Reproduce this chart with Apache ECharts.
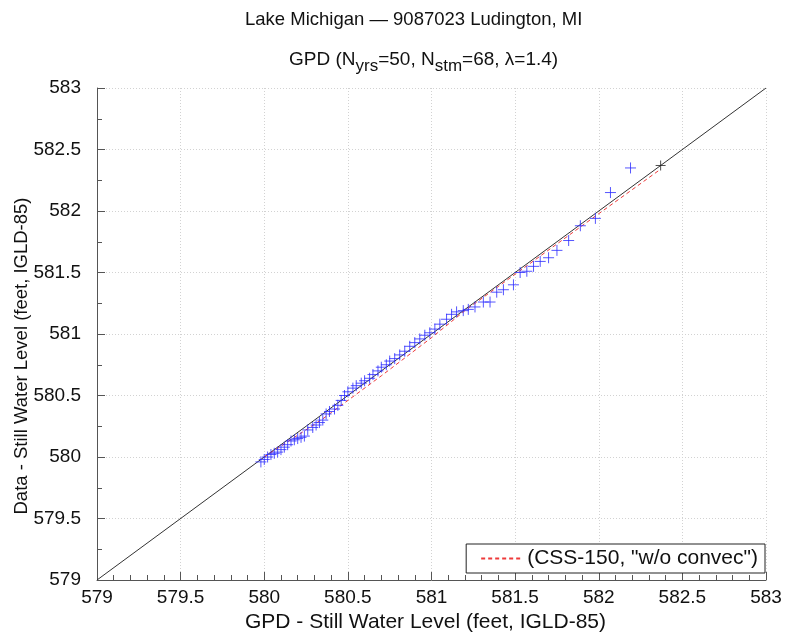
<!DOCTYPE html>
<html>
<head>
<meta charset="utf-8">
<script src="https://cdn.jsdelivr.net/npm/echarts@6/dist/echarts.min.js"></script>
<style>
  html, body { margin: 0; padding: 0; background: #fff; }
  #chart { width: 786px; height: 637px; }
</style>
</head>
<body>
<div id="chart"></div>
<script>
// GPD quantiles (x) vs. sorted observed still water levels (y), feet IGLD-85
const gpdQuantiles = [
  579.98, 580.00, 580.02, 580.04, 580.06, 580.08, 580.10, 580.12, 580.14, 580.16,
  580.18, 580.20, 580.22, 580.24, 580.26,
  580.29, 580.31, 580.33, 580.35, 580.37, 580.39, 580.42, 580.44, 580.46, 580.48,
  580.50, 580.53, 580.55, 580.58,
  580.60, 580.63, 580.65, 580.68, 580.70, 580.73, 580.75, 580.78, 580.81, 580.84,
  580.87, 580.90, 580.93, 580.96, 580.99,
  581.02, 581.05, 581.09, 581.12, 581.15, 581.19, 581.22, 581.26, 581.31,
  581.35, 581.39, 581.43, 581.49, 581.53, 581.57, 581.61,
  581.65, 581.70, 581.75, 581.82, 581.89, 581.98, 582.07, 582.19
];
const observedLevels = [
  579.96, 579.98, 580.00, 580.02, 580.03, 580.04, 580.06, 580.08, 580.10, 580.13,
  580.14, 580.15, 580.16, 580.17, 580.22,
  580.24, 580.26, 580.28, 580.30, 580.35, 580.37, 580.39, 580.42, 580.46, 580.50,
  580.53, 580.56, 580.58, 580.60,
  580.62, 580.64, 580.67, 580.70, 580.73, 580.75, 580.78, 580.80, 580.83, 580.86,
  580.90, 580.93, 580.96, 580.99, 581.01,
  581.04, 581.08, 581.12, 581.16, 581.18, 581.19, 581.20, 581.22, 581.26,
  581.26, 581.34, 581.36, 581.40, 581.50, 581.51, 581.55,
  581.59, 581.62, 581.68, 581.76, 581.88, 581.94, 582.15, 582.35
];
// CSS-150 "w/o convec" comparison curve
const cssX = [580.00, 580.35, 580.70, 581.00, 581.20, 581.90, 582.37];
const cssY = [580.00, 580.31, 580.66, 580.97, 581.19, 581.88, 582.34];
// 1:1 reference line and its end marker
const diagX = [579, 583];
const diagY = [579, 583];
const endMarkX = [582.37];
const endMarkY = [582.37];
const legendName = '(CSS-150, "w/o convec")';
const xTitle = 'GPD - Still Water Level (feet, IGLD-85)';
const yTitle = 'Data - Still Water Level (feet, IGLD-85)';

const zip = (a, b) => a.map((v, i) => [v, b[i]]);
const plus = 'path://M5,0L5,10M0,5L10,5';
const font = 'Liberation Sans, Arial, sans-serif';
const ink = '#111';

const chart = echarts.init(document.getElementById('chart'), null, { renderer: 'canvas' });
chart.setOption({
  animation: false,
  backgroundColor: '#fff',
  title: [
    {
      text: 'Lake Michigan \u2014 9087023 Ludington, MI',
      left: 240, top: 5,
      textStyle: { fontFamily: font, fontSize: 18.5, fontWeight: 'normal', color: ink }
    },
    {
      text: 'GPD (N{sub|yrs}=50, N{sub|stm}=68, \u03bb=1.4)',
      left: 284, top: 40,
      textStyle: {
        fontFamily: font, fontSize: 19, fontWeight: 'normal', color: ink,
        rich: { sub: { fontFamily: font, fontSize: 17, color: ink, verticalAlign: 'bottom', padding: [13, 0, 0, 0] } }
      }
    }
  ],
  graphic: [
    {
      type: 'text', x: 22, y: 356, rotation: Math.PI / 2, silent: true,
      style: { text: yTitle, fontFamily: font, fontSize: 18.5, fill: ink, align: 'center', verticalAlign: 'middle' }
    }
  ],
  grid: { left: 97, right: 20, top: 88, bottom: 57, containLabel: false, outerBoundsMode: 'none' },
  legend: {
    data: [{ name: legendName, itemStyle: { opacity: 0 } }],
    right: 21, bottom: 64,
    orient: 'vertical',
    backgroundColor: '#fff',
    borderColor: '#222', borderWidth: 1, borderRadius: 0,
    padding: [4, 7, 4, 14],
    itemWidth: 41, itemHeight: 12, itemGap: 4,
    textStyle: { fontFamily: font, fontSize: 21, color: ink }
  },
  xAxis: {
    type: 'value', min: 579, max: 583, interval: 0.5,
    name: xTitle,
    nameLocation: 'middle', nameGap: 31,
    nameTextStyle: { fontFamily: font, fontSize: 21, color: ink, padding: [0, 12, 0, 0] },
    axisLine: { lineStyle: { color: '#555', width: 1 } },
    axisTick: { inside: true, length: 8, lineStyle: { color: '#555' } },
    minorTick: { show: true, splitNumber: 5, length: 5, lineStyle: { color: '#555' } },
    axisLabel: { fontFamily: font, fontSize: 19, color: ink, margin: 8 },
    splitLine: { show: true, lineStyle: { color: '#d2d2d2', type: [1, 2], width: 1 } }
  },
  yAxis: {
    type: 'value', min: 579, max: 583, interval: 0.5,
    axisLine: { lineStyle: { color: '#555', width: 1 } },
    axisTick: { inside: true, length: 8, lineStyle: { color: '#555' } },
    minorTick: { show: true, splitNumber: 2, length: 5, lineStyle: { color: '#555' } },
    axisLabel: { fontFamily: font, fontSize: 19, color: ink, margin: 16 },
    splitLine: { show: true, lineStyle: { color: '#d2d2d2', type: [1, 2], width: 1 } }
  },
  series: [
    {
      name: 'diag', type: 'line', data: zip(diagX, diagY),
      symbol: 'none', silent: true,
      lineStyle: { color: '#333', width: 1 }, z: 2
    },
    {
      name: legendName, type: 'line', data: zip(cssX, cssY),
      symbol: 'none', silent: true,
      itemStyle: { color: '#ee3a3a' },
      lineStyle: { color: '#ee3a3a', width: 1, type: [4, 3] }, z: 3
    },
    {
      name: 'end', type: 'scatter', data: zip(endMarkX, endMarkY),
      symbol: plus, symbolSize: 10, silent: true,
      itemStyle: { color: 'none', borderColor: '#222', borderWidth: 1 }, z: 4
    },
    {
      name: 'data', type: 'scatter', data: zip(gpdQuantiles, observedLevels),
      symbol: plus, symbolSize: 11, silent: true,
      itemStyle: { color: 'none', borderColor: '#2a2aff', borderWidth: 1 }, z: 5
    }
  ]
});
</script>
</body>
</html>
